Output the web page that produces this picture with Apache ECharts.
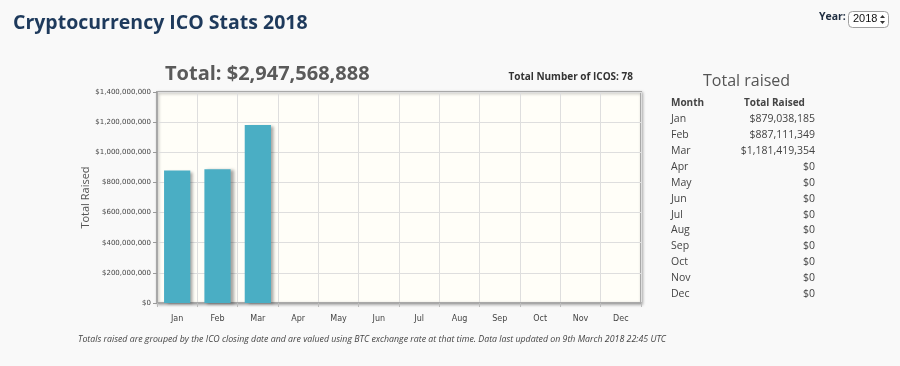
<!DOCTYPE html>
<html><head><meta charset="utf-8">
<script src="https://cdn.jsdelivr.net/npm/echarts@6/dist/echarts.min.js"></script>
<style>
html,body{margin:0;padding:0;background:#f9f9f9;}
#c{width:900px;height:366px;}
</style></head>
<body>
<div id="c"></div>
<script>
const months = ['Jan','Feb','Mar','Apr','May','Jun','Jul','Aug','Sep','Oct','Nov','Dec'];
const raised = [879038185, 887111349, 1181419354, 0, 0, 0, 0, 0, 0, 0, 0, 0];
const yTicks = [0, 200000000, 400000000, 600000000, 800000000, 1000000000, 1200000000, 1400000000];
const totalText = 'Total: $2,947,568,888';
const icoCount = 78;
const yearLabel = 'Year:';
const yearValue = '2018';

const fmt = v => '$' + v.toLocaleString('en-US');
const chart = echarts.init(document.getElementById('c'));

const g = [];
g.push({type:'text', left:703, top:73, style:{text:'Total raised', font:'16px "Open Sans"', fill:'#555'}});
g.push({type:'text', left:671, top:98, style:{text:'Month', font:'bold 10px "Open Sans"', fill:'#444'}});
g.push({type:'text', left:744, top:98, style:{text:'Total Raised', font:'bold 10px "Open Sans"', fill:'#444'}});
months.forEach((m,i)=>{
  const y = 114 + i*15.85;
  g.push({type:'text', left:671, top:y, style:{text:m, font:'10.5px "Open Sans"', fill:'#444'}});
  g.push({type:'text', right:900-815, top:y, style:{text:fmt(raised[i]), font:'10.5px "Open Sans"', fill:'#444', align:'right'}});
});
// Year selector
g.push({type:'text', left:819, top:12, style:{text:yearLabel, font:'bold 10.5px "Open Sans"', fill:'#1e2d40'}});
g.push({type:'rect', shape:{x:848.5, y:11.5, width:40, height:16, r:4}, style:{fill:'#fff', stroke:'#a0a0a0', lineWidth:1}});
g.push({type:'text', left:853, top:13, style:{text:yearValue, font:'11px "Liberation Sans"', fill:'#111'}});
g.push({type:'polygon', shape:{points:[[880,18],[885,18],[882.5,15]]}, style:{fill:'#333'}});
g.push({type:'polygon', shape:{points:[[880,21],[885,21],[882.5,24]]}, style:{fill:'#333'}});

chart.setOption({
  backgroundColor:'#f9f9f9',
  animation:false,
  title:[
    {text:'Cryptocurrency ICO Stats 2018', left:8, top:8, textStyle:{fontFamily:'Open Sans', fontWeight:'bold', fontSize:19.5, color:'#1e3a5c'}},
    {text:totalText, left:160, top:59, textStyle:{fontFamily:'Open Sans', fontWeight:'bold', fontSize:20, color:'#5a5a5a'}},
    {text:'Total Number of ICOS: ' + icoCount, right:900-638, top:67, textStyle:{fontFamily:'Open Sans', fontWeight:'bold', fontSize:10, color:'#333'}},
    {text:'Totals raised are grouped by the ICO closing date and are valued using BTC exchange rate at that time. Data last updated on 9th March 2018 22:45 UTC', left:73, top:330, textStyle:{fontFamily:'Open Sans', fontStyle:'italic', fontWeight:'normal', fontSize:8.8, color:'#444'}}
  ],
  grid:{left:157, right:259, top:92, bottom:63, show:true, backgroundColor:'#fffef8', borderColor:'#a8a8a8', borderWidth:2, shadowColor:'rgba(0,0,0,0.25)', shadowBlur:3, shadowOffsetX:1, shadowOffsetY:1},
  xAxis:{type:'category', data:months,
    axisLine:{lineStyle:{color:'#a8a8a8', width:2}},
    axisTick:{show:true, lineStyle:{color:'#bbb'}, length:4},
    axisLabel:{color:'#444', fontSize:8, fontFamily:'DejaVu Sans', margin:12},
    splitLine:{show:true, lineStyle:{color:'#dedede'}}},
  yAxis:{type:'value', min:0, max:1400000000, interval:200000000,
    name:'Total Raised', nameLocation:'middle', nameGap:66, nameMoveOverlap:false, nameTextStyle:{fontFamily:'Open Sans', fontSize:11, color:'#555'},
    axisLine:{show:true, lineStyle:{color:'#a8a8a8', width:2}},
    axisTick:{show:true, length:4, lineStyle:{color:'#999'}},
    axisLabel:{color:'#444', fontSize:7, fontFamily:'DejaVu Sans', formatter:v=>fmt(v), margin:6},
    splitLine:{show:true, lineStyle:{color:'#dedede'}}},
  series:[{type:'bar', data:raised, barWidth:'65%',
    itemStyle:{color:'#4aaec4', shadowColor:'rgba(0,0,0,0.35)', shadowBlur:3, shadowOffsetX:3, shadowOffsetY:1}}],
  graphic:g
});
</script>
</body></html>
